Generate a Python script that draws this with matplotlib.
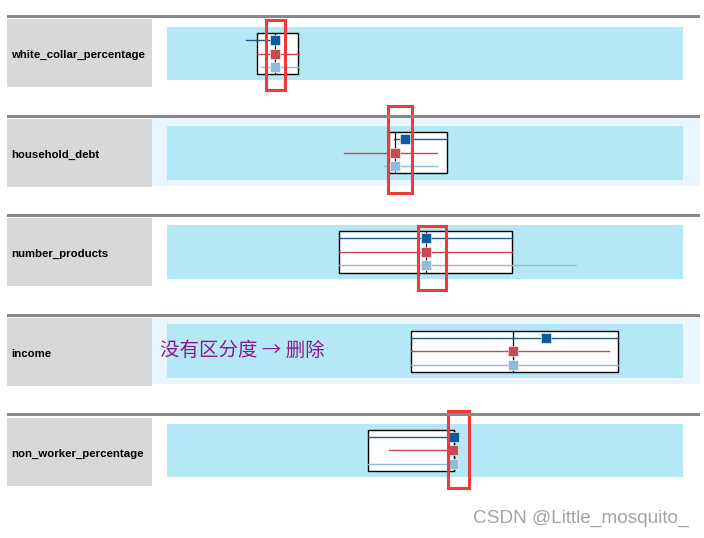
import matplotlib.pyplot as plt
from matplotlib.patches import Rectangle
import matplotlib.transforms as mtransforms

# features (one row each), x values on a 0-100 scale across the band
features = ["white_collar_percentage", "household_debt", "number_products",
            "income", "non_worker_percentage"]
selected = [False, True, False, True, False]

box_lo = [17.5, 43.1, 33.4, 47.3, 39.0]
box_hi = [25.3, 54.2, 66.8, 87.4, 55.7]
median = [21.0, 44.2, 50.2, 67.1, 55.6]

dark_mark = [20.9, 46.1, 50.2, 73.4, 55.7]
dark_lo = [15.4, 44.0, 33.4, 47.3, 39.0]
dark_hi = [20.9, 54.2, 66.8, 87.4, 54.8]

red_mark = [21.0, 44.2, 50.2, 67.1, 55.5]
red_lo = [17.5, 34.3, 33.4, 47.3, 43.0]
red_hi = [25.6, 52.3, 66.8, 85.7, 54.8]

light_mark = [21.0, 44.2, 50.2, 67.1, 55.5]
light_lo = [18.2, 42.1, 33.4, 47.3, 39.0]
light_hi = [25.6, 52.3, 79.3, 87.4, 54.8]

highlight_lo = [19.2, 42.8, 48.6, None, 54.5]
highlight_hi = [22.9, 47.5, 54.0, None, 58.5]

note_text = "没有区分度 → 删除"
watermark = "CSDN @Little_mosquito_"

W, H = 704, 538
fig = plt.figure(figsize=(W / 100, H / 100), dpi=100)
fig.patch.set_facecolor("white")

def fx(px):
    return px / W

def fy(py):
    return 1 - py / H

series = [
    (dark_mark, dark_lo, dark_hi, "#1b5a8c", "#0b5c99"),
    (red_mark, red_lo, red_hi, "#c9474e", "#c64a52"),
    (light_mark, light_lo, light_hi, "#8fbcd6", "#8fbbd8"),
]

# vertical extent of red highlight boxes (axes fraction)
hl_top = [1.13, 1.37, 0.99, None, 1.24]
hl_bot = [-0.19, -0.25, -0.21, None, -0.20]

for i, name in enumerate(features):
    line_y = 16.5 + 99.5 * i
    lab_top = 19 + 99.7 * i
    band_top = 26.8 + 99.2 * i
    band_h = 53.5

    if selected[i]:
        fig.add_artist(Rectangle((fx(152), fy(band_top + 59.5)), fx(548), 67.2 / H,
                                 transform=fig.transFigure, facecolor="#eaf6fd",
                                 edgecolor="none", zorder=0))
    fig.add_artist(Rectangle((fx(7), fy(line_y + 1.5)), fx(693), 3 / H,
                             transform=fig.transFigure, facecolor="#888888",
                             edgecolor="none", zorder=1))
    fig.add_artist(Rectangle((fx(7), fy(lab_top + 68)), fx(145), 68 / H,
                             transform=fig.transFigure, facecolor="#d8d8da",
                             edgecolor="none", zorder=1))
    fig.text(fx(11), fy(lab_top + 36), name, fontsize=8.2, fontweight="bold",
             family="Liberation Sans", va="center", ha="left")

    ax = fig.add_axes([fx(167), fy(band_top + band_h), fx(516), band_h / H])
    ax.set_facecolor("#b5e8f6")
    for s in ax.spines.values():
        s.set_visible(False)
    ax.set_xticks([])
    ax.set_yticks([])
    ax.set_xlim(0, 100)
    ax.set_ylim(2.98, -0.98)

    ax.add_patch(Rectangle((box_lo[i], -0.52), box_hi[i] - box_lo[i], 3.05,
                           facecolor="white", edgecolor="black", lw=1.0, zorder=2))
    ax.plot([median[i], median[i]], [-0.52, 2.53], color="black", lw=0.9, zorder=3)

    for row, (mk, lo, hi, lc, mc) in enumerate(series):
        ax.plot([lo[i], hi[i]], [row, row], color=lc, lw=1.0, zorder=4)
        ax.plot([mk[i]], [row], marker="s", ms=6.8, color=mc,
                mec="white", mew=0.4, zorder=5, clip_on=False)

    if highlight_lo[i] is not None:
        trans = mtransforms.blended_transform_factory(ax.transData, ax.transAxes)
        ax.add_patch(Rectangle((highlight_lo[i], hl_bot[i]),
                               highlight_hi[i] - highlight_lo[i],
                               hl_top[i] - hl_bot[i], transform=trans,
                               fill=False, edgecolor="#f03a3a", lw=2.2,
                               clip_on=False, zorder=6))

    if name == "income":
        ax.text(fx(160 - 167) * W / 516 * 100, 0.95, note_text,
                transform=ax.transData, fontsize=14, color="#8a1a8c",
                family=["Noto Sans CJK SC", "DejaVu Sans"], va="center",
                ha="left", clip_on=False, zorder=7)

fig.text(fx(473), fy(518), watermark, fontsize=13.7, color="#a3a3a3",
         family="Liberation Sans", va="center", ha="left")

fig.savefig("out.png", dpi=100)
